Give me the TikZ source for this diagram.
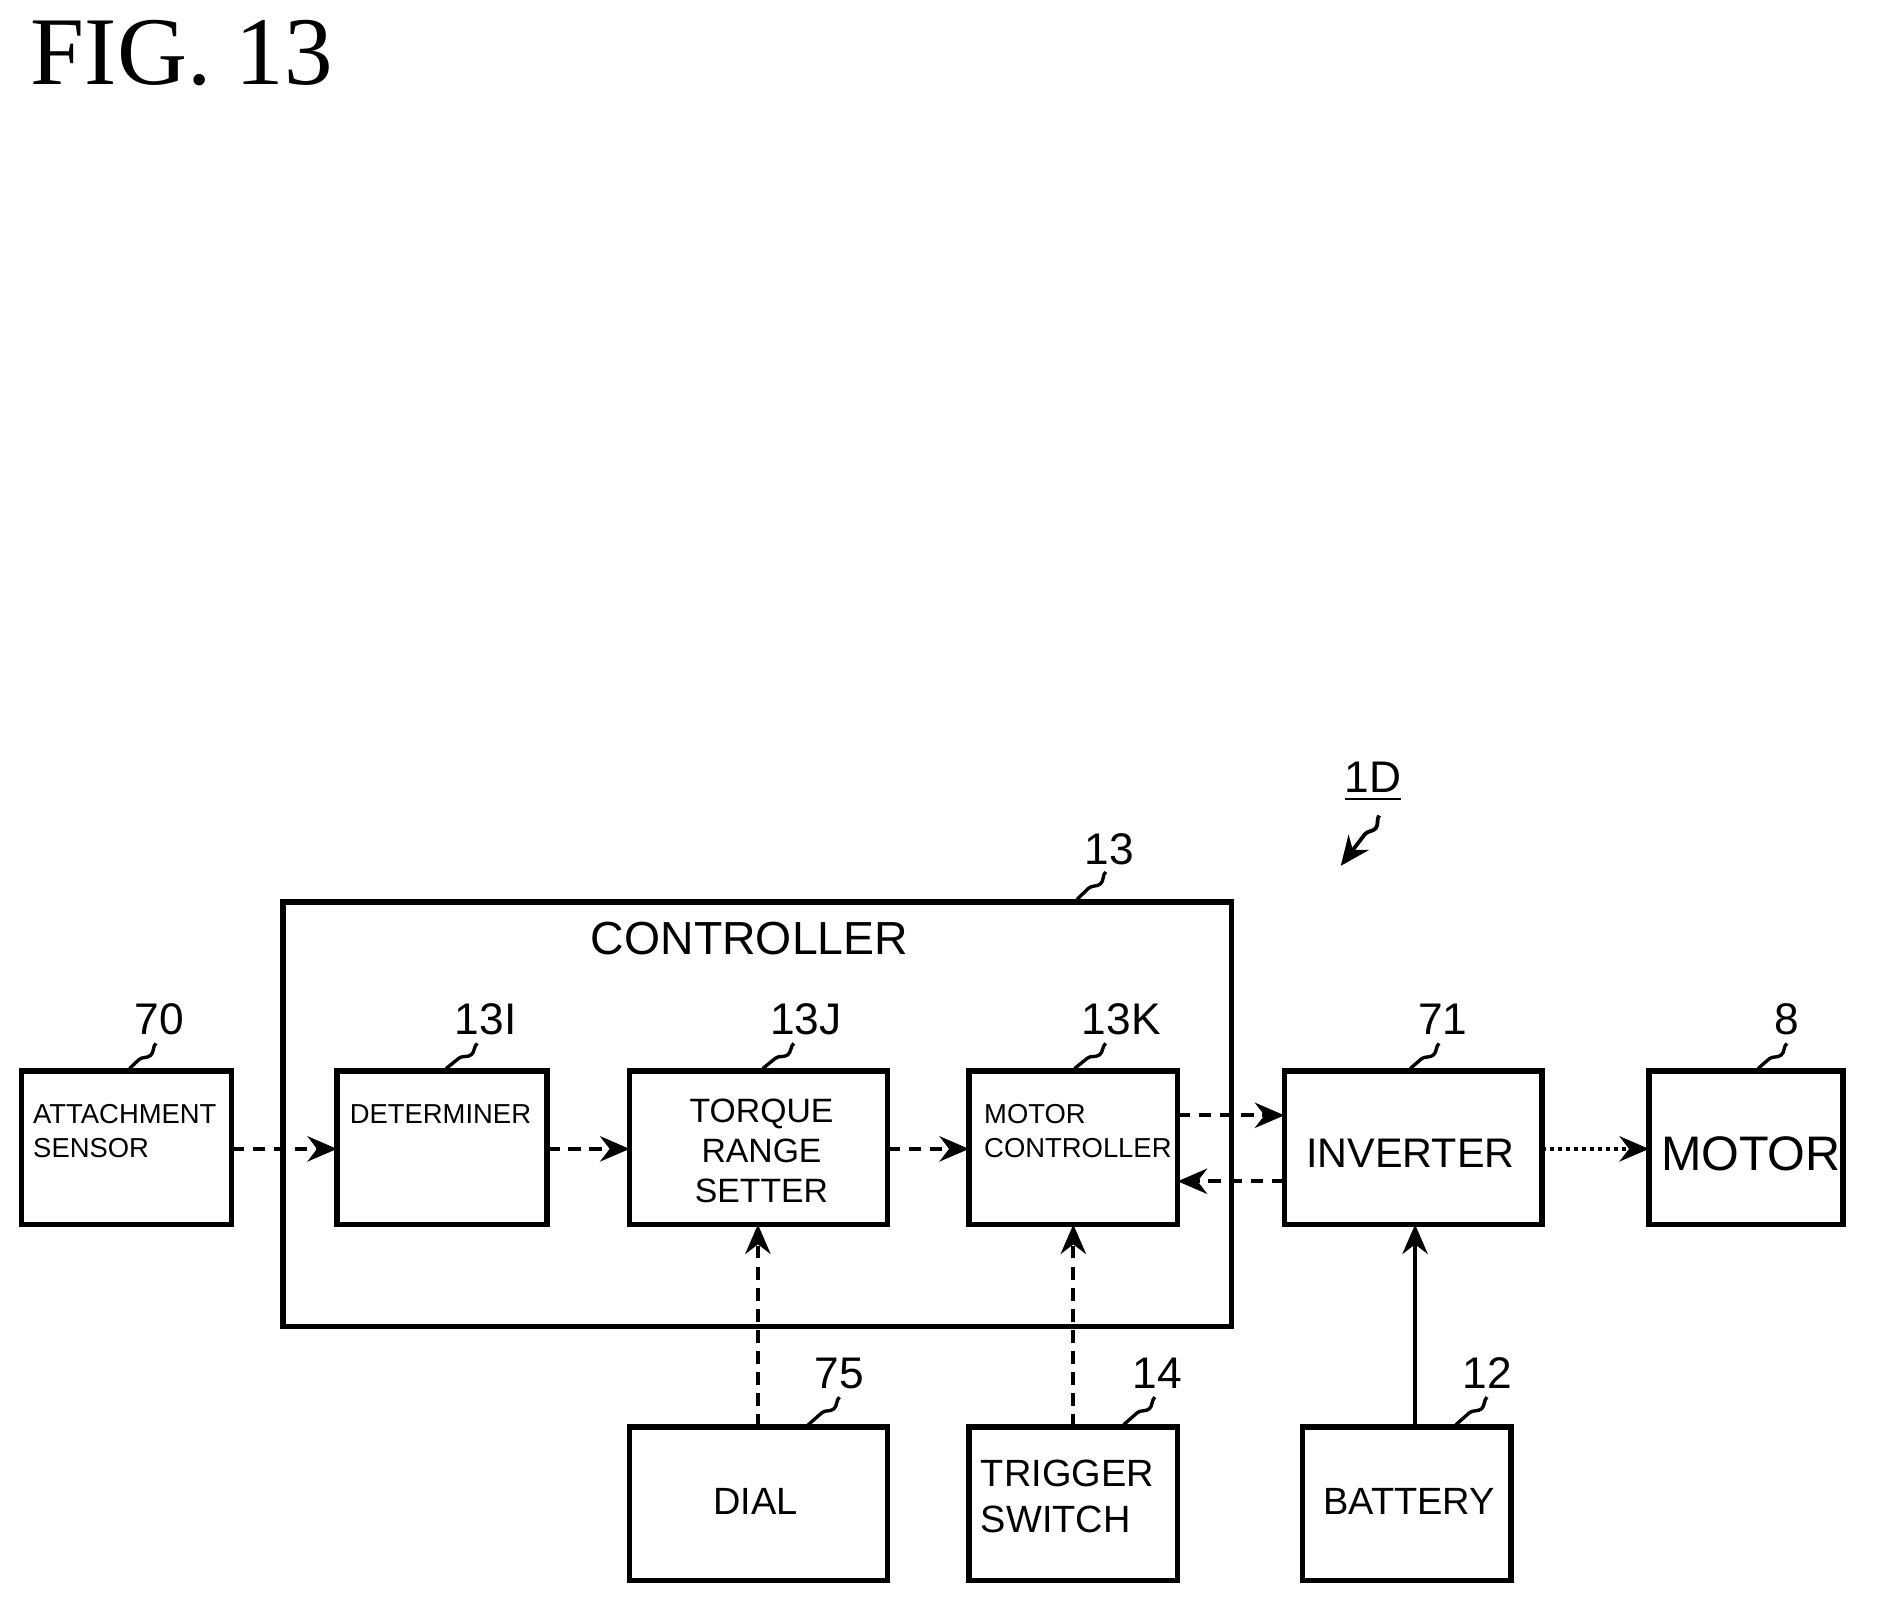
\documentclass[tikz,border=0pt]{standalone}
\usepackage{fontspec}
\setmainfont{Liberation Sans}
\newfontfamily\figfont{Liberation Serif}
\usetikzlibrary{arrows.meta,decorations.pathmorphing}
\begin{document}
\begin{tikzpicture}[x=0.01cm,y=-0.01cm,
  blk/.style={draw,line width=1.3pt,inner sep=0},
  sm/.style={font=\fontsize{6.5}{8}\selectfont,align=left,inner sep=0},
  md/.style={font=\fontsize{8}{9.5}\selectfont,align=center,inner sep=0},
  lb/.style={font=\fontsize{10.5}{12}\selectfont,inner sep=0},
  da/.style={densely dashed,line width=0.9pt,-{Stealth[length=7pt,width=6pt]}},
  sa/.style={line width=0.9pt,-{Stealth[length=7pt,width=6pt]}},
  wv/.style={decorate,decoration={snake,amplitude=1.2pt,segment length=9pt},line width=0.8pt}]
\useasboundingbox (0,0) rectangle (1566,1335);
\node[font=\figfont\fontsize{23}{26}\selectfont,anchor=west,inner sep=0] (fig) at (25,44) {FIG. 13};
% controller
\draw[blk] (236,752) rectangle (1027,1106);
\node[font=\fontsize{11}{13}\selectfont,inner sep=0] (ctl) at (625,783) {CONTROLLER};
% boxes
\draw[blk] (18,893) rectangle (193,1021);
\draw[blk] (281,893) rectangle (456,1021);
\draw[blk] (525,893) rectangle (740,1021);
\draw[blk] (808,893) rectangle (982,1021);
\draw[blk] (1071,893) rectangle (1286,1021);
\draw[blk] (1375,893) rectangle (1537,1021);
\draw[blk] (525,1190) rectangle (740,1318);
\draw[blk] (808,1190) rectangle (982,1318);
\draw[blk] (1086,1190) rectangle (1260,1318);
\coordinate (sensR) at (193,958);
\coordinate (detL) at (281,958);
\coordinate (detR) at (456,958);
\coordinate (torL) at (525,958);
\coordinate (torR) at (740,958);
\coordinate (torB) at (632,1021);
\coordinate (mcL) at (808,958);
\coordinate (mcR1) at (982,930);
\coordinate (mcR2) at (982,985);
\coordinate (mcB) at (895,1021);
\coordinate (invL1) at (1071,930);
\coordinate (invL2) at (1071,985);
\coordinate (invR) at (1286,958);
\coordinate (invB) at (1180,1021);
\coordinate (motL) at (1375,958);
\coordinate (dialT) at (632,1190);
\coordinate (trigT) at (895,1190);
\coordinate (batT) at (1180,1190);
% texts
\node[sm,anchor=west] (t1) at (27,943) {ATTACHMENT\\SENSOR};
\node[sm,anchor=west] (t2) at (291,929) {DETERMINER};
\node[md] (t3) at (635,960) {TORQUE\\RANGE\\SETTER};
\node[sm,anchor=west] (t4) at (820,943) {MOTOR\\CONTROLLER};
\node[font=\fontsize{9.8}{12}\selectfont,inner sep=0] (t5) at (1176,962) {INVERTER};
\node[font=\fontsize{11.5}{14}\selectfont,inner sep=0] (t6) at (1460,962) {MOTOR};
\node[md,font=\fontsize{9}{11}\selectfont] (t7) at (630,1252) {DIAL};
\node[md,font=\fontsize{9}{11}\selectfont,align=left] (t8) at (890,1248) {TRIGGER\\SWITCH};
\node[md,font=\fontsize{9}{11}\selectfont] (t9) at (1175,1252) {BATTERY};
% arrows
\draw[da] (sensR) -- (detL);
\draw[da] (detR) -- (torL);
\draw[da] (torR) -- (mcL);
\draw[da] (mcR1) -- (invL1);
\draw[da] (invL2) -- (mcR2);
\draw[sa,densely dotted] (invR) -- (motL);
\draw[da] (dialT) -- (torB);
\draw[da] (trigT) -- (mcB);
\draw[sa] (batT) -- (invB);
% reference labels
\node[lb] (l70) at (133,850) {70};
\node[lb] (l13I) at (405,850) {13I};
\node[lb] (l13J) at (672,850) {13J};
\node[lb] (l13K) at (935,850) {13K};
\node[lb] (l71) at (1203,850) {71};
\node[lb] (l8) at (1490,850) {8};
\node[lb] (l75) at (700,1145) {75};
\node[lb] (l14) at (965,1145) {14};
\node[lb] (l12) at (1240,1145) {12};
\node[lb] (l13) at (925,708) {13};
\node[lb] (l1D) at (1145,652) {\underline{1D}};
\draw[wv] (130,870) -- (108,891);
\draw[wv] (398,870) -- (372,891);
\draw[wv] (662,870) -- (636,891);
\draw[wv] (922,870) -- (896,891);
\draw[wv] (1200,870) -- (1176,891);
\draw[wv] (1490,870) -- (1466,891);
\draw[wv] (700,1165) -- (674,1188);
\draw[wv] (963,1165) -- (937,1188);
\draw[wv] (1240,1165) -- (1214,1188);
\draw[wv] (922,727) -- (898,750);
\draw[wv,decoration={snake,amplitude=1.2pt,segment length=9pt,post length=8pt},-{Stealth[length=7pt,width=6pt]},line width=0.9pt] (1150,680) -- (1118,722);
\end{tikzpicture}
\end{document}
